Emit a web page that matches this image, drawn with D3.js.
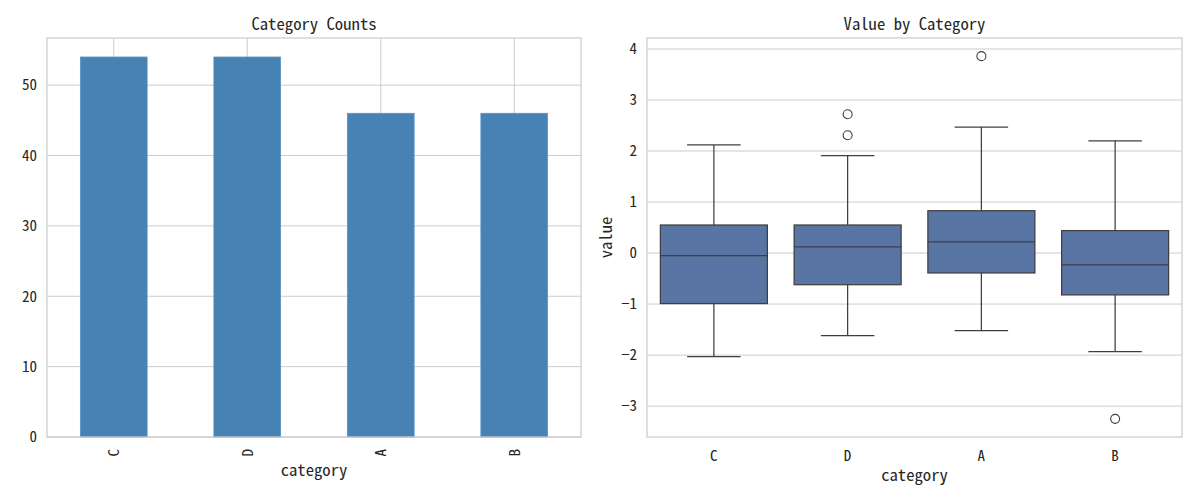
<!DOCTYPE html>
<html>
<head>
<meta charset="utf-8">
<script src="https://cdn.jsdelivr.net/npm/d3@7"></script>
<style>
  body { margin: 0; background: #fff; }
  svg text { font-family: "Noto Sans Mono CJK JP", "Noto Sans Mono CJK SC", "DejaVu Sans Mono", monospace; fill: #262626; }
</style>
</head>
<body>
<div id="chart"></div>
<script>
// category order as drawn
const categories = ["C", "D", "A", "B"];

// left panel: counts per category
const counts = [54, 54, 46, 46];
const countTicks = [0, 10, 20, 30, 40, 50];

// right panel: box statistics
const whiskerLow  = [-2.03, -1.62, -1.52, -1.93];
const q1          = [-0.99, -0.62, -0.39, -0.82];
const medians     = [-0.05, 0.12, 0.22, -0.23];
const q3          = [0.55, 0.55, 0.83, 0.44];
const whiskerHigh = [2.12, 1.91, 2.47, 2.20];
const outliers    = [[], [2.72, 2.31], [3.86], [-3.25]];
const valueTicks  = [-3, -2, -1, 0, 1, 2, 3, 4];

const width = 1200, height = 500;
const gridColor = "#cccccc";

const svg = d3.select("#chart").append("svg")
    .attr("width", width)
    .attr("height", height);

// ---------- left: bar chart ----------
const left = { x0: 47, x1: 581, y0: 38, y1: 437 };

const xBar = d3.scaleBand()
    .domain(categories)
    .range([left.x0, left.x1])
    .paddingInner(0.5)
    .paddingOuter(0.25);

const yBar = d3.scaleLinear()
    .domain([0, d3.max(counts) * 1.05])
    .range([left.y1, left.y0]);

const gL = svg.append("g");

// grid
gL.append("g")
    .selectAll("line.h")
    .data(countTicks)
    .join("line")
    .attr("x1", left.x0).attr("x2", left.x1)
    .attr("y1", d => yBar(d)).attr("y2", d => yBar(d))
    .attr("stroke", gridColor).attr("stroke-width", 1);

gL.append("g")
    .selectAll("line.v")
    .data(categories)
    .join("line")
    .attr("x1", d => xBar(d) + xBar.bandwidth() / 2)
    .attr("x2", d => xBar(d) + xBar.bandwidth() / 2)
    .attr("y1", left.y0).attr("y2", left.y1)
    .attr("stroke", gridColor).attr("stroke-width", 1);

// bars
gL.append("g")
    .selectAll("rect")
    .data(categories)
    .join("rect")
    .attr("x", d => xBar(d))
    .attr("y", (d, i) => yBar(counts[i]))
    .attr("width", xBar.bandwidth())
    .attr("height", (d, i) => yBar(0) - yBar(counts[i]))
    .attr("fill", "#4682b4")
    .attr("stroke", "#5b93c2")
    .attr("stroke-width", 0.8);

// frame
gL.append("rect")
    .attr("x", left.x0).attr("y", left.y0)
    .attr("width", left.x1 - left.x0).attr("height", left.y1 - left.y0)
    .attr("fill", "none").attr("stroke", gridColor).attr("stroke-width", 1.25);

// y ticks
gL.append("g")
    .selectAll("text")
    .data(countTicks)
    .join("text")
    .attr("x", left.x0 - 10)
    .attr("y", d => yBar(d))
    .attr("dy", "0.35em")
    .attr("text-anchor", "end")
    .attr("font-size", 15)
    .text(d => d);

// x ticks (rotated)
gL.append("g")
    .selectAll("text")
    .data(categories)
    .join("text")
    .attr("transform", d => "translate(" + (xBar(d) + xBar.bandwidth() / 2) + "," + (left.y1 + 12) + ") rotate(-90)")
    .attr("dy", "0.35em")
    .attr("text-anchor", "end")
    .attr("font-size", 15)
    .text(d => d);

gL.append("text")
    .attr("x", (left.x0 + left.x1) / 2)
    .attr("y", 470)
    .attr("dy", "0.35em")
    .attr("text-anchor", "middle")
    .attr("font-size", 16.7)
    .text("category");

gL.append("text")
    .attr("x", (left.x0 + left.x1) / 2)
    .attr("y", 24)
    .attr("dy", "0.35em")
    .attr("text-anchor", "middle")
    .attr("font-size", 16.7)
    .text("Category Counts");

// ---------- right: box plot ----------
const right = { x0: 647, x1: 1182, y0: 38, y1: 437 };

const xBox = d3.scaleBand()
    .domain(categories)
    .range([right.x0, right.x1])
    .paddingInner(0.2)
    .paddingOuter(0.1);

const allVals = whiskerLow.concat(whiskerHigh, outliers.flat());
const vMin = d3.min(allVals), vMax = d3.max(allVals);
const pad = (vMax - vMin) * 0.05;

const yBox = d3.scaleLinear()
    .domain([vMin - pad, vMax + pad])
    .range([right.y1, right.y0]);

const gR = svg.append("g");

gR.append("g")
    .selectAll("line")
    .data(valueTicks)
    .join("line")
    .attr("x1", right.x0).attr("x2", right.x1)
    .attr("y1", d => yBox(d)).attr("y2", d => yBox(d))
    .attr("stroke", gridColor).attr("stroke-width", 1);

const lineColor = "#3f3f3f";
const boxes = categories.map((c, i) => ({
    cat: c, lo: whiskerLow[i], q1: q1[i], med: medians[i], q3: q3[i], hi: whiskerHigh[i], out: outliers[i]
}));

const bg = gR.append("g")
    .selectAll("g")
    .data(boxes)
    .join("g")
    .attr("transform", d => "translate(" + (xBox(d.cat) + xBox.bandwidth() / 2) + ",0)");

const bw = xBox.bandwidth();

// whiskers
bg.append("line")
    .attr("x1", 0).attr("x2", 0)
    .attr("y1", d => yBox(d.q3)).attr("y2", d => yBox(d.hi))
    .attr("stroke", lineColor).attr("stroke-width", 1.25);
bg.append("line")
    .attr("x1", 0).attr("x2", 0)
    .attr("y1", d => yBox(d.q1)).attr("y2", d => yBox(d.lo))
    .attr("stroke", lineColor).attr("stroke-width", 1.25);
// caps
bg.append("line")
    .attr("x1", -bw / 4).attr("x2", bw / 4)
    .attr("y1", d => yBox(d.hi)).attr("y2", d => yBox(d.hi))
    .attr("stroke", lineColor).attr("stroke-width", 1.25);
bg.append("line")
    .attr("x1", -bw / 4).attr("x2", bw / 4)
    .attr("y1", d => yBox(d.lo)).attr("y2", d => yBox(d.lo))
    .attr("stroke", lineColor).attr("stroke-width", 1.25);
// box
bg.append("rect")
    .attr("x", -bw / 2)
    .attr("y", d => yBox(d.q3))
    .attr("width", bw)
    .attr("height", d => yBox(d.q1) - yBox(d.q3))
    .attr("fill", "#5875a4")
    .attr("stroke", lineColor).attr("stroke-width", 1.25);
// median
bg.append("line")
    .attr("x1", -bw / 2).attr("x2", bw / 2)
    .attr("y1", d => yBox(d.med)).attr("y2", d => yBox(d.med))
    .attr("stroke", lineColor).attr("stroke-width", 1.25);
// outliers
bg.selectAll("circle")
    .data(d => d.out)
    .join("circle")
    .attr("cx", 0)
    .attr("cy", d => yBox(d))
    .attr("r", 4.5)
    .attr("fill", "none")
    .attr("stroke", lineColor).attr("stroke-width", 1.1);

gR.append("rect")
    .attr("x", right.x0).attr("y", right.y0)
    .attr("width", right.x1 - right.x0).attr("height", right.y1 - right.y0)
    .attr("fill", "none").attr("stroke", gridColor).attr("stroke-width", 1.25);

gR.append("g")
    .selectAll("text")
    .data(valueTicks)
    .join("text")
    .attr("x", right.x0 - 10)
    .attr("y", d => yBox(d))
    .attr("dy", "0.35em")
    .attr("text-anchor", "end")
    .attr("font-size", 15)
    .text(d => d < 0 ? "\u2212" + Math.abs(d) : d);

gR.append("g")
    .selectAll("text")
    .data(categories)
    .join("text")
    .attr("x", d => xBox(d) + bw / 2)
    .attr("y", 456)
    .attr("dy", "0.35em")
    .attr("text-anchor", "middle")
    .attr("font-size", 15)
    .text(d => d);

gR.append("text")
    .attr("x", (right.x0 + right.x1) / 2)
    .attr("y", 475)
    .attr("dy", "0.35em")
    .attr("text-anchor", "middle")
    .attr("font-size", 16.7)
    .text("category");

gR.append("text")
    .attr("transform", "translate(606," + ((right.y0 + right.y1) / 2) + ") rotate(-90)")
    .attr("dy", "0.35em")
    .attr("text-anchor", "middle")
    .attr("font-size", 16.7)
    .text("value");

gR.append("text")
    .attr("x", (right.x0 + right.x1) / 2)
    .attr("y", 24)
    .attr("dy", "0.35em")
    .attr("text-anchor", "middle")
    .attr("font-size", 16.7)
    .text("Value by Category");
</script>
</body>
</html>
